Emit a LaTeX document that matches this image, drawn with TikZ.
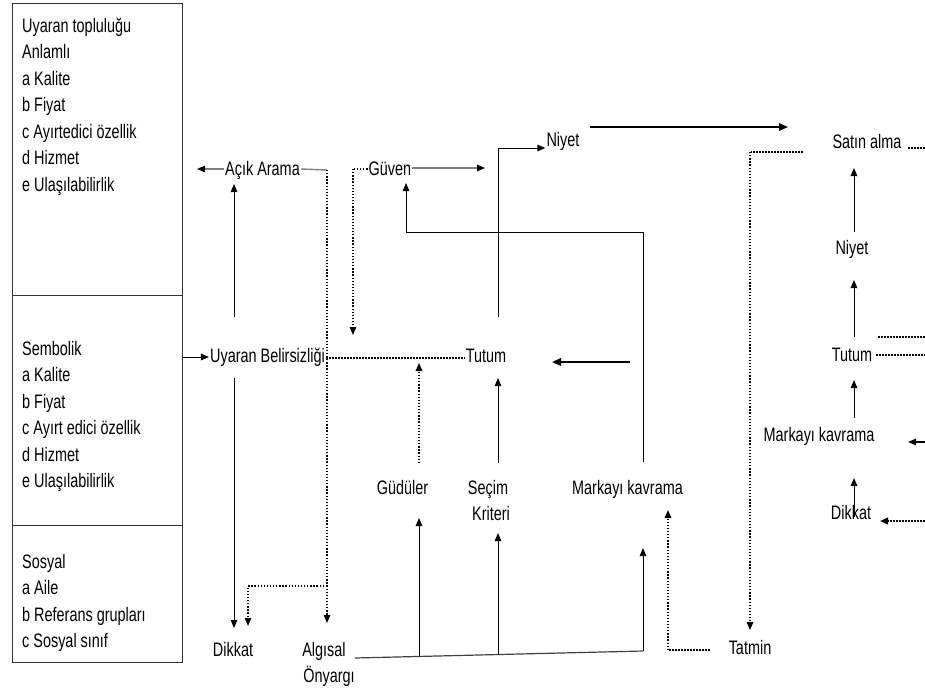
\documentclass[tikz,border=0pt]{standalone}
\usepackage{fontspec}
\setmainfont[FakeStretch=0.74]{Liberation Sans}
\usetikzlibrary{arrows.meta}
\begin{document}
\begin{tikzpicture}[x=1pt,y=-1pt,
  txt/.style={font=\fontsize{19.5}{26.5}\selectfont},
  lbl/.style={txt, inner sep=1pt, anchor=base},
  blk/.style={txt, inner sep=0pt, anchor=north west, align=left},
  ml/.style={txt, inner sep=0pt, anchor=north, align=center},
  box/.style={draw=black!80, line width=1.2pt, anchor=north west,
              minimum width=170pt, inner sep=0pt},
  tip/.style={-{Triangle[length=8pt,width=6.5pt,color=black]}},
  ln/.style={line width=1pt},
  arr/.style={ln, tip},
  bigarr/.style={line width=1.8pt, -{Triangle[length=9pt,width=7.5pt]}},
  grayarr/.style={line width=1.4pt, draw=black!50, tip},
  dot/.style={line width=1.4pt, dash pattern=on 1.3pt off 1.8pt},
  dotarr/.style={dot, tip},
  hdot/.style={line width=2.4pt, dash pattern=on 1.6pt off 1.4pt}
]
\useasboundingbox (0,0) rectangle (925,689);

% stimulus boxes on the left
\node[box, minimum height=292pt] (box1) at (12,3) {};
\node[box, minimum height=230pt] (box2) at (12,295) {};
\node[box, minimum height=137pt] (box3) at (12,525) {};
\node[blk] (t1) at (22,17.8) {Uyaran topluluğu\\Anlamlı\\a Kalite\\b Fiyat\\c Ayırtedici özellik\\d Hizmet\\e Ulaşılabilirlik};
\node[blk] (t2) at (22,340.8) {Sembolik\\a Kalite\\b Fiyat\\c Ayırt edici özellik\\d Hizmet\\e Ulaşılabilirlik};
\node[blk] (t3) at (22,553.8) {Sosyal\\a Aile\\b Referans grupları\\c Sosyal sınıf};

% perception and learning constructs
\node[lbl] (aa) at (262.5,175) {Açık Arama};
\node[lbl] (guven) at (390,175) {Güven};
\node[lbl] (niyet1) at (563,146) {Niyet};
\node[lbl] (satin) at (867,148) {Satın alma};
\node[lbl] (ub) at (267.5,362) {Uyaran Belirsizliği};
\node[lbl] (tutum1) at (486,362) {Tutum};
\node[lbl] (gud) at (402.5,494) {Güdüler};
\node[ml] (secim) at (488,479.8) {Seçim\\\hspace*{6pt}Kriteri};
\node[lbl] (mk1) at (627.5,494) {Markayı kavrama};
\node[lbl] (dik1) at (233,656) {Dikkat};
\node[ml] (alg) at (324,641.8) {Algısal\\\hspace*{10pt}Önyargı};
\node[lbl] (tat) at (750,654) {Tatmin};

% output constructs on the right
\node[lbl] (niyet2) at (852,254) {Niyet};
\node[lbl] (tutum2) at (852,361) {Tutum};
\node[lbl] (mk2) at (819,441) {Markayı kavrama};
\node[lbl] (dik2) at (851,519) {Dikkat};

% free ends
\coordinate (aaL) at (197,169);
\coordinate (guvR) at (485,168);
\coordinate (satL) at (788,127);
\coordinate (tutR) at (630,362);
\coordinate (tatL) at (710,650);
\coordinate (mkR) at (908,442);

% connectors, left part
\draw[grayarr] (aa.west |- 0,169) -- (aaL);
\draw[line width=1.4pt, draw=black!50] (aa.east |- 0,169) -- (327,170);
\draw[dotarr] (327,170) -- (327,623);
\draw[dotarr] (327,586) -- (248,586) -- (248,626);
\draw[arr] (234,317) -- (234,184);
\draw[arr] (234,378) -- (234,628);
\draw[arr] (box2.east |- 0,357) -- (ub.west |- 0,357);
\draw[hdot] (ub.east |- 0,358) -- (tutum1.west |- 0,358);

% connectors, middle part
\draw[dot] (guven.west |- 0,169) -- (353,169);
\draw[dotarr] (353,169) -- (353,335);
\draw[grayarr] (guven.east |- 0,168) -- (guvR);
\draw[ln] (498,317) -- (498,148);
\draw[arr] (498,148) -- (niyet1.west |- 0,148);
\draw[bigarr] (590,127) -- (satL);
\draw[dotarr] (419,463) -- (419,363);
\draw[arr] (498,463) -- (498,378);
\draw[ln] (643,462) -- (643,232) -- (406,232);
\draw[arr] (406,232) -- (406,183);
\draw[bigarr] (tutR) -- (552,362);

% bottom connectors
\draw[line width=1.2pt, draw=black!75] (alg.east |- 0,658) -- (643,651);
\draw[arr] (643,651) -- (643,548);
\draw[arr] (419,656) -- (419,518);
\draw[arr] (498,654.5) -- (498,533);
\draw[hdot] (803,152) -- (751,152);
\draw[dotarr] (750,152) -- (750,630);
\draw[hdot] (tatL) -- (669,650);
\draw[dotarr] (668,650) -- (668,510);

% right column
\draw[arr] (854,232) -- (854,168);
\draw[arr] (854,337) -- (854,280);
\draw[arr] (854,418) -- (854,380);
\draw[arr] (854,517) -- (854,478);
\draw[hdot] (908,148) -- (925,148);
\draw[hdot] (878,337) -- (925,337);
\draw[hdot] (876,355) -- (925,355);
\draw[line width=1.6pt, -{Triangle[length=8pt,width=6.5pt]}] (925,442) -- (mkR);
\draw[hdot, -{Triangle[length=8pt,width=6.5pt]}] (925,521) -- (880,521);
\end{tikzpicture}
\end{document}
